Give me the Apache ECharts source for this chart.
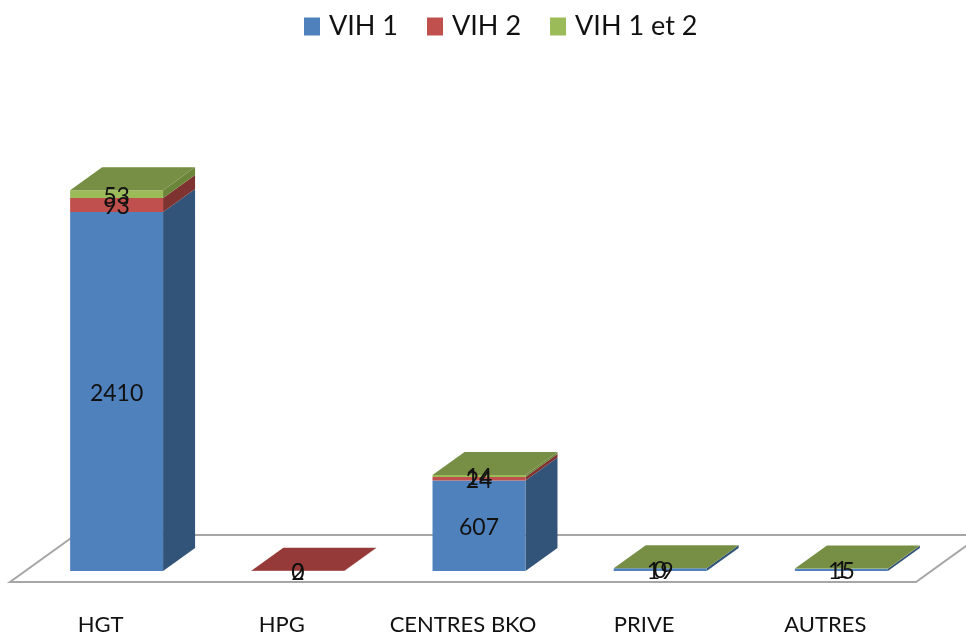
<!DOCTYPE html>
<html>
<head>
<meta charset="utf-8">
<style>html,body{margin:0;padding:0;background:#fff}#c{width:966px;height:635px}</style>
<script src="https://cdn.jsdelivr.net/npm/echarts@6/dist/echarts.min.js"></script>
</head>
<body>
<div id="c"></div>
<script>
var categories = ['HGT', 'HPG', 'CENTRES BKO', 'PRIVE', 'AUTRES'];
var vih1 = [2410, 0, 607, 19, 15];
var vih2 = [93, 2, 24, null, null];
var vih12 = [53, null, 14, 0, 1];
var seriesNames = ['VIH 1', 'VIH 2', 'VIH 1 et 2'];
var seriesValues = [vih1, vih2, vih12];
var frontColors = ['#4F81BD', '#C0504D', '#9BBB59'];
var sideColors = ['#335479', '#7E3331', '#6B8539'];
var topColors = ['#3E6596', '#953A38', '#778F45'];

var DX = 32, DY = 23, FLOOR_DROP = 11, FLOOR_DEPTH = 47, BAR_RATIO = 0.513;

var chart = echarts.init(document.getElementById('c'), null, {renderer: 'canvas'});

function topIndex(i) {
  var t = 0;
  seriesValues.forEach(function (vals, s) { if (vals[i] !== null) t = s; });
  return t;
}

function stackData(s) {
  return categories.map(function (c, i) {
    var base = 0;
    for (var k = 0; k < s; k++) base += seriesValues[k][i] || 0;
    var v = seriesValues[s][i];
    return [i, base, base + (v || 0), v === null ? -1 : v];
  });
}

function renderSegment(s) {
  return function (params, api) {
    var i = api.value(0), raw = api.value(3);
    if (raw < 0) return {type: 'group', children: []};
    var w = api.size([1, 0])[0] * BAR_RATIO;
    var b = api.coord([i, api.value(1)]);
    var t = api.coord([i, api.value(2)]);
    var l = b[0] + DX / 2 - w / 2, r = l + w, yb = b[1], yt = t[1];
    var kids = [];
    if (yb - yt > 0) {
      kids.push({type: 'polygon', shape: {points: [[r, yb], [r + DX, yb - DY], [r + DX, yt - DY], [r, yt]]},
        style: {fill: sideColors[s]}});
      kids.push({type: 'rect', shape: {x: l, y: yt, width: w, height: yb - yt}, style: {fill: frontColors[s]}});
    }
    if (topIndex(i) === s) {
      kids.push({type: 'polygon', shape: {points: [[l, yt], [l + DX, yt - DY], [r + DX, yt - DY], [r, yt]]},
        style: {fill: topColors[s]}});
    }
    kids.push({type: 'text', z2: 100, style: {
      x: (l + r) / 2, y: (yb + yt) / 2 + 2, text: String(raw), align: 'center', verticalAlign: 'middle',
      font: '23px Lato, Carlito, sans-serif', fill: '#111'}});
    return {type: 'group', children: kids};
  };
}

function renderFloor(params, api) {
  var cs = params.coordSys;
  var yf = cs.y + cs.height + FLOOR_DROP, yBack = yf - FLOOR_DEPTH;
  var shift = FLOOR_DEPTH * DX / DY;
  return {type: 'polygon', shape: {points: [[cs.x, yf], [cs.x + cs.width, yf], [cs.x + cs.width + shift, yBack], [cs.x + shift, yBack]]},
    style: {fill: '#fff', stroke: '#A6A6A6', lineWidth: 2}};
}

var series = [{type: 'custom', silent: true, z: 1, renderItem: renderFloor, data: [[0]], encode: {x: 0}, clip: false, legendHoverLink: false}];
seriesNames.forEach(function (n, s) {
  series.push({
    type: 'custom', name: n, z: 2, clip: false,
    itemStyle: {color: frontColors[s]},
    renderItem: renderSegment(s),
    encode: {x: 0, y: 2},
    data: stackData(s)
  });
});

chart.setOption({
  animation: false,
  backgroundColor: '#fff',
  legend: {
    data: seriesNames, left: 299, top: 8, icon: 'rect', itemWidth: 16, itemHeight: 18, itemGap: 29,
    textStyle: {fontFamily: 'Lato, Carlito, sans-serif', fontSize: 27, color: '#111', padding: [0, 0, 0, 4]}
  },
  grid: {left: 10, width: 906, top: 124, height: 447, outerBoundsMode: 'none'},
  xAxis: {type: 'category', data: categories,
    axisLine: {show: false}, axisTick: {show: false}, splitLine: {show: false},
    axisLabel: {margin: 43, fontFamily: 'Lato, Carlito, sans-serif', fontSize: 22, color: '#111', interval: 0}},
  yAxis: {type: 'value', min: 0, max: 3000, interval: 500, show: false, splitLine: {show: false}},
  series: series
});
</script>
</body>
</html>
